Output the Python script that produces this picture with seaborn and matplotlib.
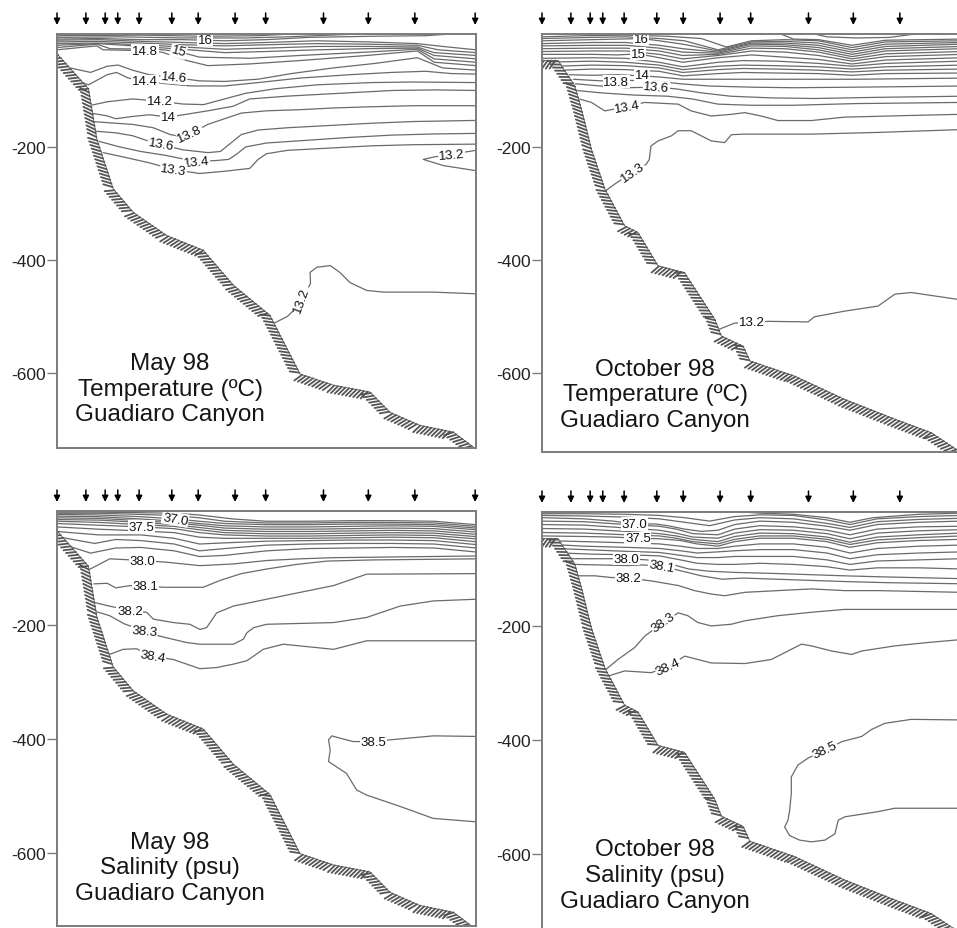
import matplotlib
matplotlib.use("Agg")
import matplotlib.pyplot as plt
import matplotlib.patheffects as pe
import pandas as pd
import seaborn as sns

# station positions along the section (0-100 of section length)
stations = [0, 6.9, 11.5, 14.5, 19.6, 27.4, 33.7, 42.5, 49.8, 63.6, 74.3, 85.4, 99.8]

yticks = [-200, -400, -600]
ytick_labels = ["-200", "-400", "-600"]

# sea floor (distance, depth m)
bathy_may = [(0, -35), (7.5, -97), (9.5, -186), (13.4, -274), (18.2, -316), (26.2, -357),
             (34.9, -383), (42.1, -445), (50.8, -498), (58.0, -602), (66.0, -622),
             (74.7, -634), (79.5, -670), (86.6, -693), (94.6, -705), (100, -735)]
bathy_oct = [(0, -47), (3.8, -47), (7.8, -91), (9.4, -133), (11.8, -204), (15.0, -274),
             (19.7, -339), (22.9, -351), (27.7, -410), (34.0, -422), (41.2, -504),
             (42.8, -534), (48.0, -552), (49.6, -578), (60.3, -605), (72.2, -646),
             (84.2, -681), (92.9, -705), (100, -740)]

# isolines: depth of each level read along the section
may_temp = {
    "16.4": [(0, -3), (20, -2), (35, -4), (48, -3), (56, 0)],
    "16.2": [(0, -6), (15, -5), (30, -7), (45, -7), (55, -5), (65, -2), (72, 0)],
    "16": [(0, -9), (10, -8), (20, -10), (30, -10), (40, -12), (50, -10), (60, -6), (75, -4), (88, -3), (94, 0)],
    "15.8": [(0, -11), (10, -10), (20, -13), (30, -15), (40, -17), (50, -15), (62, -12), (74, -14), (86, -17), (92, -22), (100, -28)],
    "15.6": [(0, -14), (10, -13), (20, -16), (30, -19), (40, -21), (50, -19), (62, -17), (74, -18), (86, -20), (91, -28), (100, -33)],
    "15.4": [(0, -17), (10, -16), (20, -19), (30, -23), (40, -27), (50, -25), (62, -22), (74, -22), (86, -23), (90, -33), (100, -38)],
    "15.2": [(0, -20), (10, -17), (20, -22), (30, -27), (40, -33), (50, -31), (62, -28), (74, -26), (86, -25), (90, -38), (100, -44)],
    "15": [(0, -24), (9.5, -18), (12.7, -26), (24, -27), (29, -31), (34, -41), (46, -43), (58, -38), (74, -32), (86, -27), (90, -44), (100, -50)],
    "14.8": [(0, -28), (9.5, -21), (11, -28), (18, -29), (25, -32), (31, -47), (36, -56), (46, -53), (58, -47), (74, -38), (86, -30), (90, -50), (100, -56)],
    "14.6": [(0, -55), (8, -68), (12, -57), (14.6, -55), (18, -64), (22, -72), (28, -77), (34, -83), (40, -84), (48, -80), (56, -70), (66, -60), (76, -52), (86, -42), (92, -60), (100, -64)],
    "14.4": [(0, -70), (7.5, -90), (12, -72), (14.2, -68), (17, -78), (21, -84), (26, -88), (32, -92), (40, -92), (48, -86), (58, -78), (70, -72), (80, -68), (88, -66), (94, -70), (100, -71)],
    "14.2": [(7, -128), (12, -120), (18, -115), (24.6, -119), (30, -124), (35, -125), (40, -115), (45, -105), (52, -97), (62, -90), (75, -86), (85, -85), (100, -86)],
    "14": [(8, -140), (12, -145), (14, -150), (18, -146), (22, -143), (26.6, -147), (31, -142), (36, -136), (42, -128), (46, -115), (55, -110), (70, -104), (80, -100), (90, -99), (100, -100)],
    "13.8": [(8.5, -155), (14, -158), (18, -160), (23, -166), (27, -178), (30, -182), (33, -172), (36, -160), (40, -150), (44, -140), (50, -136), (58, -134), (66, -131), (74, -129), (85, -127), (100, -127)],
    "13.6": [(9, -172), (14, -175), (18, -180), (22, -190), (24.8, -196), (30, -205), (36, -210), (39, -208), (42, -190), (44, -178), (48, -170), (55, -166), (65, -162), (75, -158), (85, -155), (100, -153)],
    "13.4": [(10, -190), (15, -200), (20, -208), (26, -215), (33.3, -226), (38, -224), (41, -222), (43, -212), (45, -200), (50, -193), (60, -188), (70, -183), (80, -179), (90, -177), (100, -176)],
    "13.3": [(11, -210), (16, -218), (22, -228), (27.8, -240), (34, -247), (40, -243), (46, -238), (48, -222), (50, -212), (55, -206), (65, -202), (75, -198), (85, -196), (100, -195)],
    "13.2 deep": [(51, -515), (55, -500), (57.5, -482), (60.5, -442), (60.4, -422), (62, -413), (65.2, -410), (67.5, -422), (69.9, -440), (73.9, -454), (77.9, -457), (89.8, -457), (100, -460)],
    "13.2 tongue": [(100, -206), (89.8, -218), (87.4, -222), (92.2, -233), (100, -242)],
}
may_temp_labels = [("16", 35.3, -10, 0), ("15", 29, -31, -15), ("14.8", 21, -30, 0),
                   ("14.6", 27.9, -77, -5), ("14.4", 21, -84, 0), ("14.2", 24.6, -119, 0),
                   ("14", 26.6, -147, 0), ("13.8", 31.7, -176, 25), ("13.6", 24.8, -196, -10),
                   ("13.4", 33.3, -226, 5), ("13.3", 27.8, -240, -8), ("13.2", 58.4, -470, 70),
                   ("13.2", 94.2, -214, 5)]

oct_temp = {
    "16.8": [(65, 0), (68, -5), (75, -7), (83, -6), (89, 0)],
    "16.6": [(57, 0), (60, -9), (66, -10), (74, -20), (82, -11), (100, -9)],
    "16.4": [(0, -5), (10, -3), (20, -2), (30, -4), (38, -8), (44, -23), (50, -12), (58, -10), (66, -12), (74, -24), (82, -14), (100, -12)],
    "16.2": [(0, -8), (12, -6), (20, -5), (28, -8), (34, -12), (42, -28), (50, -14), (58, -13), (66, -16), (74, -28), (82, -18), (100, -15)],
    "16": [(0, -12), (12, -10), (18, -9), (23.7, -8), (28, -12), (33.6, -18), (42, -30), (50, -16), (58, -16), (66, -20), (74, -32), (82, -22), (100, -18)],
    "15.8": [(0, -17), (12, -15), (20, -15), (28, -20), (33.6, -26), (42, -32), (50, -18), (58, -19), (66, -24), (74, -36), (82, -26), (100, -22)],
    "15.6": [(0, -21), (12, -20), (20, -20), (28, -25), (33.6, -32), (42, -34), (50, -21), (58, -22), (66, -28), (74, -40), (82, -30), (100, -26)],
    "15.4": [(0, -26), (12, -25), (20, -25), (28, -30), (33.6, -38), (42, -36), (50, -25), (58, -26), (66, -32), (74, -44), (82, -35), (100, -31)],
    "15.2": [(0, -31), (12, -30), (20, -30), (28, -36), (33.6, -44), (42, -38), (50, -30), (58, -32), (66, -38), (74, -48), (82, -40), (100, -36)],
    "15": [(0, -36), (12, -36), (18, -37), (22.9, -35), (28, -42), (33.6, -50), (42, -42), (50, -37), (56, -40), (66, -45), (74, -53), (82, -46), (100, -42)],
    "14.8": [(0, -43), (12, -42), (20, -43), (28, -50), (33.6, -58), (42, -50), (48, -47), (56, -48), (66, -52), (74, -57), (82, -52), (100, -48)],
    "14.6": [(0, -50), (12, -48), (20, -50), (28, -55), (33.6, -63), (42, -57), (48, -55), (56, -56), (66, -58), (74, -62), (82, -58), (100, -55)],
    "14.4": [(3, -57), (12, -55), (20, -56), (28, -60), (33.6, -68), (42, -63), (48, -61), (56, -62), (66, -64), (74, -67), (82, -64), (100, -62)],
    "14.2": [(5, -64), (12, -62), (20, -63), (28, -66), (33.6, -74), (42, -70), (48, -68), (56, -69), (66, -70), (74, -73), (82, -70), (100, -69)],
    "14": [(6.5, -72), (12, -73), (18, -72), (23.9, -74), (28, -76), (33.6, -80), (40, -80), (50, -80), (60, -80), (75, -80), (100, -78)],
    "13.8": [(7.5, -80), (12, -82), (17.7, -84), (21, -82), (28, -84), (33, -88), (40, -92), (50, -94), (60, -95), (75, -94), (100, -92)],
    "13.6": [(8, -88), (14, -92), (20, -95), (27.3, -94), (32, -97), (38, -104), (45, -110), (55, -113), (65, -114), (80, -112), (100, -110)],
    "13.5": [(8.5, -100), (14, -104), (22, -108), (30, -110), (36, -115), (42, -124), (50, -126), (60, -126), (75, -123), (100, -121)],
    "13.4": [(9, -115), (11.8, -121), (15, -136), (20.4, -128), (24.5, -121), (32.5, -124), (35.6, -136), (40.4, -145), (45.2, -142), (48.4, -139), (52.3, -145), (56.3, -153), (64.3, -153), (72.2, -147), (88.1, -144), (100, -142)],
    "13.3": [(15.2, -277), (18, -262), (21.7, -245), (24.9, -230), (25.6, -222), (26, -198), (27.7, -189), (30.9, -180), (32.5, -171), (35.6, -171), (38, -180), (40.4, -189), (43.6, -192), (45.2, -178), (48.4, -177), (64.3, -177), (80.2, -174), (100, -169)],
    "13.2": [(42.3, -522), (46, -511), (50, -510), (54, -508), (63.5, -509), (65, -500), (72.2, -490), (80.2, -481), (84.2, -460), (88.1, -457), (100, -470)],
}
oct_temp_labels = [("16", 23.7, -8, 0), ("15", 22.9, -35, 0), ("14", 23.9, -73, 0),
                   ("13.8", 17.7, -84, 0), ("13.6", 27.3, -94, -5), ("13.4", 20.4, -128, 10),
                   ("13.3", 21.7, -245, 35), ("13.2", 50, -510, 0)]

may_sal = {
    "36.8": [(0, -2), (10, -2), (20, -3), (28, -4), (34, -7), (42, -14), (50, -18), (60, -18), (70, -17), (80, -17), (90, -18), (100, -24)],
    "36.9": [(0, -4), (10, -4), (20, -6), (28, -8), (34, -12), (40, -18), (50, -21), (60, -21), (70, -20), (80, -20), (90, -21), (100, -27)],
    "37.0": [(0, -6), (10, -7), (20, -10), (28.2, -14), (34, -18), (40, -22), (50, -24), (60, -24), (70, -23), (80, -23), (90, -24), (100, -30)],
    "37.1": [(0, -9), (10, -10), (20, -14), (28, -18), (34, -22), (40, -26), (50, -28), (60, -28), (70, -27), (80, -26), (90, -27), (100, -33)],
    "37.2": [(0, -12), (10, -13), (20, -17), (28, -21), (34, -25), (40, -30), (50, -32), (60, -32), (70, -31), (80, -30), (90, -31), (100, -37)],
    "37.3": [(0, -15), (10, -16), (20, -20), (28, -24), (34, -29), (40, -34), (50, -36), (60, -36), (70, -35), (80, -34), (90, -35), (100, -41)],
    "37.4": [(0, -18), (10, -20), (20, -24), (28, -27), (34, -33), (40, -38), (50, -40), (60, -40), (70, -39), (80, -38), (90, -39), (100, -45)],
    "37.5": [(0, -22), (10, -25), (20.2, -28), (28, -31), (34, -38), (40, -42), (50, -44), (60, -44), (70, -43), (80, -42), (90, -43), (100, -49)],
    "37.6": [(0, -28), (10, -32), (20, -35), (28, -38), (34, -46), (40, -48), (50, -48), (60, -48), (70, -47), (80, -46), (90, -47), (100, -54)],
    "37.7": [(0, -36), (10, -42), (20, -42), (28, -48), (34, -58), (40, -56), (50, -53), (60, -52), (70, -51), (80, -51), (90, -52), (100, -59)],
    "37.8": [(0, -45), (9, -57), (14, -50), (20, -52), (28, -58), (34, -70), (40, -66), (50, -60), (60, -58), (70, -57), (80, -57), (90, -58), (100, -65)],
    "37.9": [(0, -55), (8, -74), (14, -65), (20, -64), (28, -70), (34, -80), (40, -78), (50, -70), (60, -66), (70, -65), (80, -64), (90, -65), (100, -72)],
    "38.0": [(7.9, -102), (12.6, -84), (20.4, -87), (26.2, -90), (34.1, -96), (42.1, -93), (50, -87), (58, -84), (66, -82), (100, -79)],
    "38.1": [(8.8, -128), (12, -127), (14, -135), (17.5, -131), (21.2, -131), (25.4, -134), (34.9, -134), (38.9, -122), (44, -110), (50, -102), (57, -94), (64.4, -88), (75, -86), (100, -84)],
    "38.2": [(8.5, -160), (11.9, -166), (17.4, -175), (21.4, -178), (23, -190), (27.8, -196), (31.7, -199), (34.1, -208), (35.7, -205), (38.1, -179), (42.1, -167), (50, -155), (58, -143), (66, -131), (73.9, -111), (100, -110)],
    "38.3": [(9, -176), (12.6, -184), (16, -198), (20.8, -211), (24.6, -220), (30.9, -231), (34.1, -234), (42.1, -234), (44.5, -225), (45.3, -214), (46.9, -205), (50, -199), (66, -196), (73.9, -187), (81.9, -167), (89.8, -158), (100, -155)],
    "38.4": [(12.5, -252), (15.8, -243), (19, -242), (22.8, -255), (27.8, -261), (34.1, -277), (38.1, -275), (42.1, -269), (45.3, -263), (46.9, -255), (49.2, -243), (54, -234), (58, -237), (66, -243), (73.9, -228), (81.9, -228), (100, -228)],
    "38.5": [(100, -396), (89.8, -395), (79.5, -402), (75.5, -405), (70.7, -405), (67.5, -399), (65.6, -395), (64.8, -402), (65.2, -420), (64.8, -440), (66, -446), (69.1, -461), (71.5, -490), (73.9, -499), (81.9, -519), (89.8, -540), (100, -546)],
}
may_sal_labels = [("37.0", 28.2, -14, -10), ("37.5", 20.2, -28, 0), ("38.0", 20.4, -87, 0),
                  ("38.1", 21.2, -131, 0), ("38.2", 17.4, -175, 0), ("38.3", 20.8, -211, -5),
                  ("38.4", 22.8, -255, -10), ("38.5", 75.5, -405, 0)]

oct_sal = {
    "36.7": [(48, 0), (52, -2), (60, -4), (68, -10), (73.5, -18), (79, -10), (90, -4), (100, -2)],
    "36.8": [(0, -3), (10, -3), (20, -4), (28, -6), (34, -10), (40, -16), (46, -8), (52, -5), (60, -6), (68, -14), (73.5, -22), (80, -12), (90, -8), (100, -6)],
    "36.9": [(0, -6), (10, -7), (20, -9), (28, -12), (34, -18), (40, -24), (46, -14), (52, -10), (60, -12), (68, -20), (73.5, -27), (80, -17), (90, -13), (100, -11)],
    "37.0": [(0, -10), (10, -12), (17, -16), (22.1, -21), (27, -21), (30, -24), (34, -30), (38, -34), (42, -32), (46, -22), (52, -16), (60, -18), (68, -25), (73.5, -32), (80, -22), (90, -18), (100, -16)],
    "37.1": [(0, -16), (10, -17), (20, -22), (28, -25), (32, -30), (36, -38), (42, -40), (46, -30), (52, -24), (60, -26), (68, -32), (73.5, -40), (80, -30), (90, -26), (100, -25)],
    "37.2": [(0, -22), (10, -23), (20, -28), (28, -32), (32, -37), (36, -44), (42, -46), (46, -37), (52, -31), (60, -32), (68, -38), (73.5, -47), (80, -37), (90, -33), (100, -31)],
    "37.3": [(0, -29), (10, -30), (20, -34), (28, -38), (32, -42), (36, -48), (42, -52), (46, -43), (52, -37), (60, -38), (68, -44), (73.5, -53), (80, -44), (90, -40), (100, -37)],
    "37.4": [(0, -36), (10, -37), (20, -40), (28, -42), (32, -46), (36, -52), (42, -56), (46, -48), (52, -42), (60, -42), (68, -48), (73.5, -57), (80, -49), (90, -45), (100, -42)],
    "37.5": [(0, -42), (10, -43), (17, -44), (22.9, -46), (28, -47), (33, -50), (37, -56), (42, -60), (46, -52), (52, -46), (60, -46), (68, -52), (73.5, -62), (80, -54), (90, -50), (100, -48)],
    "37.6": [(0, -50), (10, -52), (20, -54), (28, -56), (33, -60), (37, -64), (42, -64), (46, -60), (52, -56), (60, -56), (68, -62), (73.5, -72), (80, -64), (90, -60), (100, -58)],
    "37.7": [(0, -56), (10, -60), (20, -62), (28, -64), (33, -68), (37, -72), (42, -70), (46, -68), (52, -66), (60, -66), (68, -72), (73.5, -82), (80, -75), (90, -72), (100, -70)],
    "37.8": [(3, -64), (10, -66), (20, -69), (28, -71), (33, -76), (37, -80), (42, -80), (46, -78), (52, -78), (60, -78), (68, -84), (73.5, -92), (80, -86), (90, -84), (100, -82)],
    "37.9": [(5, -72), (12, -74), (20, -75), (28, -77), (33, -84), (37, -90), (42, -92), (46, -92), (52, -90), (60, -92), (68, -96), (73.5, -102), (80, -98), (90, -98), (100, -100)],
    "38.0": [(7, -82), (14, -82), (20.1, -82), (25, -84), (30, -90), (35, -100), (40, -104), (46, -106), (56, -108), (64, -110), (72, -112), (82, -114), (100, -117)],
    "38.1": [(8, -92), (14, -93), (20, -94), (24, -93), (28.5, -95), (33, -103), (38, -112), (43, -118), (48, -116), (56, -118), (64, -120), (72, -122), (82, -124), (100, -126)],
    "38.2": [(8.5, -112), (12.6, -112), (16.5, -115), (20.7, -116), (26.1, -121), (32.5, -129), (36.4, -138), (40.4, -144), (43.6, -147), (48.4, -141), (56.3, -138), (64.3, -135), (72.2, -138), (80.2, -138), (100, -141)],
    "38.3": [(15, -278), (18.1, -259), (22.1, -238), (24.5, -218), (28.9, -194), (32.5, -177), (34.8, -182), (37.2, -194), (40.4, -200), (45.2, -197), (48.4, -191), (56.3, -182), (64.3, -176), (72.2, -171), (100, -171)],
    "38.4": [(15.8, -288), (19.7, -279), (26.1, -282), (30.1, -271), (34.1, -253), (40.4, -265), (48.4, -266), (54.7, -259), (57.9, -247), (61.9, -232), (64.3, -235), (69.1, -244), (73.9, -250), (76.3, -244), (84.2, -235), (92.2, -229), (100, -224)],
    "38.5": [(100, -365), (88.1, -364), (81.8, -371), (78.6, -382), (76.3, -394), (71.6, -403), (67.5, -418), (63.5, -432), (61.1, -444), (59.5, -465), (59.5, -494), (59.1, -524), (58.7, -541), (57.9, -553), (59.1, -568), (61.5, -576), (64.3, -579), (67.5, -576), (69.9, -565), (70.7, -541), (72.3, -535), (80.2, -526), (84.2, -520), (100, -520)],
}
oct_sal_labels = [("37.0", 22.1, -21, 0), ("37.5", 22.9, -46, 0), ("38.0", 20.1, -82, 0),
                  ("38.1", 28.5, -95, -10), ("38.2", 20.7, -116, 0), ("38.3", 28.9, -194, 35),
                  ("38.4", 30.1, -271, 25), ("38.5", 67.5, -418, 25)]

panels = [
    ("May 98\nTemperature (ºC)\nGuadiaro Canyon", may_temp, may_temp_labels, bathy_may, -733, -628),
    ("October 98\nTemperature (ºC)\nGuadiaro Canyon", oct_temp, oct_temp_labels, bathy_oct, -739, -637),
    ("May 98\nSalinity (psu)\nGuadiaro Canyon", may_sal, may_sal_labels, bathy_may, -729, -626),
    ("October 98\nSalinity (psu)\nGuadiaro Canyon", oct_sal, oct_sal_labels, bathy_oct, -739, -637),
]

W, H = 957, 929
# axes boxes in pixels: left, top, width, height (right column runs off the page)
boxes = [(57, 35, 419, 414), (542, 35, 419, 418), (57, 512, 419, 415), (542, 513, 419, 421)]

LINE = "#6a6a6a"
FRAME = "#7c7c7c"

sns.set_theme(style="white")
plt.rcParams["font.family"] = ["Liberation Sans", "DejaVu Sans"]

fig = plt.figure(figsize=(W / 100, H / 100), dpi=100)

for (title, lines, labels, bathy, ybottom, ytext), (l, t, w, h) in zip(panels, boxes):
    ax = fig.add_axes([l / W, 1 - (t + h) / H, w / W, h / H])
    rows = [(name, i, x, d) for name, pts in lines.items() for i, (x, d) in enumerate(pts)]
    df = pd.DataFrame(rows, columns=["level", "order", "x", "depth"])
    sns.lineplot(data=df, x="x", y="depth", units="level", estimator=None, sort=False,
                 color=LINE, lw=0.9, ax=ax, legend=False, zorder=2)

    # sea floor: white below, hatched edge
    bx = [p[0] for p in bathy]
    bd = [p[1] for p in bathy]
    ax.fill_between(bx, bd, -1000, color="white", zorder=3, lw=0)
    ax.plot(bx, bd, color="#555555", lw=1.3, zorder=4,
            path_effects=[pe.TickedStroke(spacing=2.7, angle=-125, length=2.6)])
    ax.plot(bx, bd, color="#555555", lw=0.6, zorder=4)

    for txt, x, d, rot in labels:
        ax.text(x, d, txt, fontsize=9.5, ha="center", va="center", rotation=rot,
                color="#111111", zorder=5,
                bbox=dict(fc="white", ec="none", pad=0.5))

    ax.text(27, ytext, title, fontsize=17.5, ha="center", va="center",
            linespacing=1.22, color="#161616", zorder=6)

    tip = 1 + 9 / h
    tail = 1 + 21 / h
    for sx in stations:
        ax.annotate("", xy=(sx, tip), xycoords=("data", "axes fraction"),
                    xytext=(sx, tail), textcoords=("data", "axes fraction"),
                    arrowprops=dict(arrowstyle="-|>", color="black", lw=1.1,
                                    mutation_scale=9, shrinkA=0, shrinkB=0),
                    annotation_clip=False)

    ax.set_xlim(0, 100)
    ax.set_ylim(ybottom, 0)
    ax.set_xticks([])
    ax.set_yticks(yticks)
    ax.set_yticklabels(ytick_labels)
    ax.set_xlabel("")
    ax.set_ylabel("")
    ax.tick_params(axis="y", direction="out", length=7, width=1, color=FRAME,
                   pad=1, labelsize=12.5, labelcolor="#222222", left=True)
    for s in ax.spines.values():
        s.set_color(FRAME)
        s.set_linewidth(1.4)
        s.set_zorder(7)

fig.savefig("out.png", dpi=100, facecolor="white")
